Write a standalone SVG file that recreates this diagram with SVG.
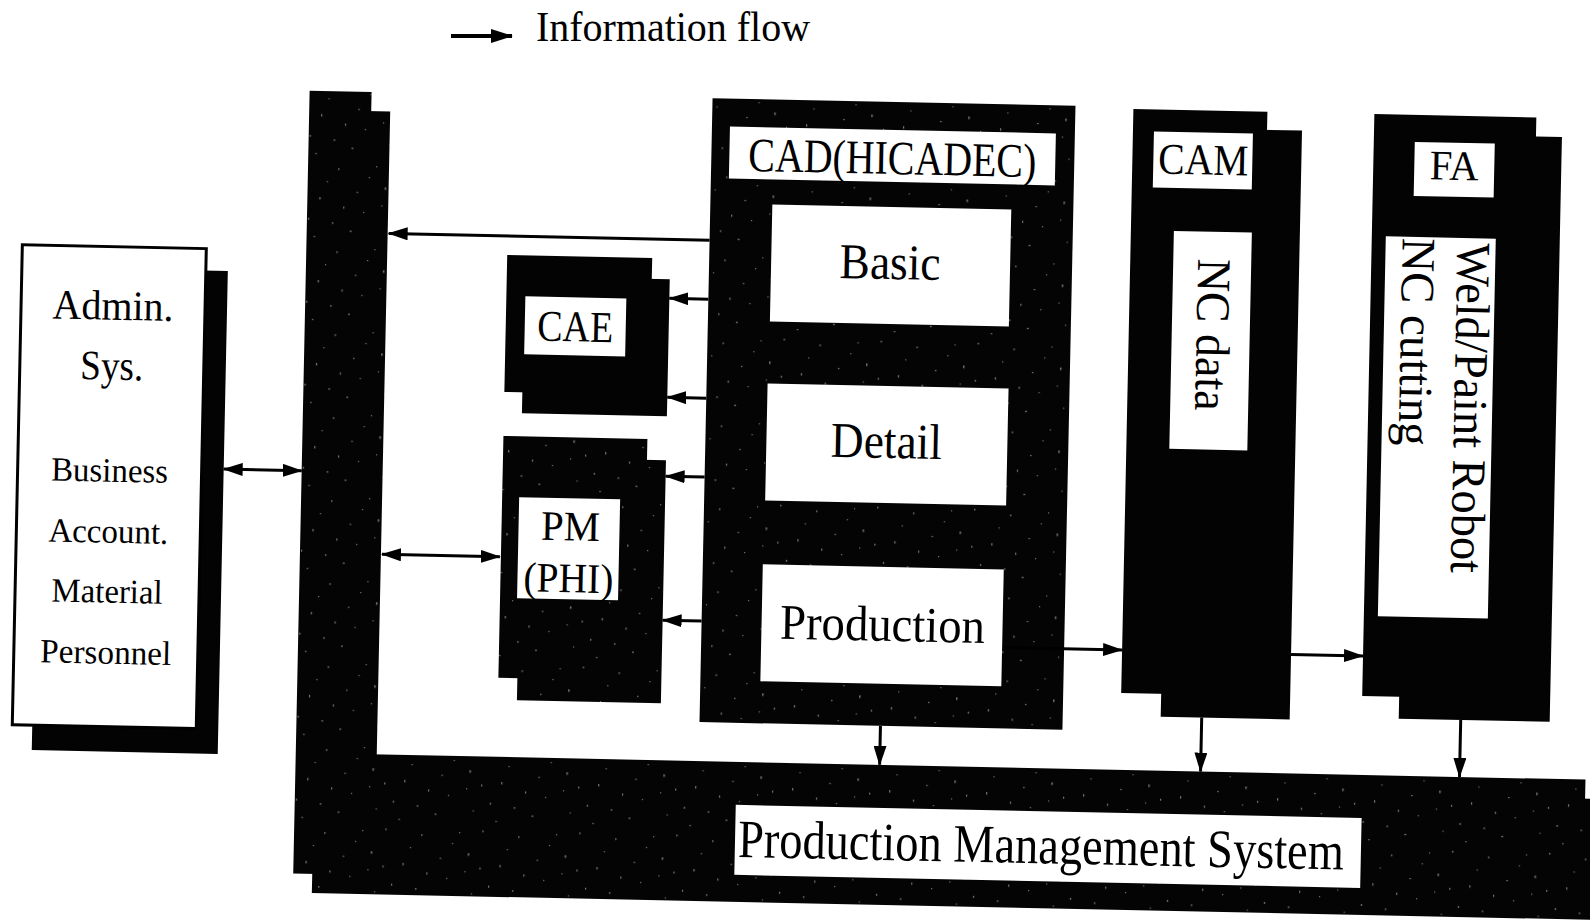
<svg xmlns="http://www.w3.org/2000/svg" width="1590" height="920" viewBox="0 0 1590 920">
<style>
 .dk{fill:#030303}
 .spk{fill:url(#speck)}
 .wht{fill:#fff}
 .t{font-family:"Liberation Serif","Times New Roman",serif;fill:#000;text-anchor:middle}
 .ln{stroke:#000;stroke-width:3;fill:none}
 .one{marker-end:url(#ah)}
 .two{marker-start:url(#ah);marker-end:url(#ah)}
</style>
<defs>
 <pattern id="speck" width="97" height="83" patternUnits="userSpaceOnUse">
  <rect width="97" height="83" fill="#040404"/>
  <g fill="#fff" fill-opacity="0.45">
   <rect x="5" y="7" width="1.5" height="1.5"/>
   <rect x="23" y="41" width="1.2" height="2.5"/>
   <rect x="41" y="12" width="1.5" height="1.5"/>
   <rect x="67" y="55" width="1.2" height="1.2"/>
   <rect x="88" y="30" width="1.5" height="2.5"/>
   <rect x="12" y="62" width="1.2" height="2"/>
   <rect x="54" y="74" width="2" height="1.2"/>
   <rect x="79" y="9" width="1.2" height="1.2"/>
   <rect x="30" y="25" width="1.2" height="1.2"/>
   <rect x="60" y="35" width="1.5" height="1.2"/>
   <rect x="3" y="44" width="1.2" height="2"/>
   <rect x="92" y="70" width="1.2" height="1.2"/>
   <rect x="47" y="50" width="1.2" height="2.2"/>
   <rect x="18" y="80" width="1.5" height="1.2"/>
   <rect x="72" y="20" width="1.2" height="1.2"/>
   <rect x="36" y="66" width="1.5" height="1.5"/>
   <rect x="85" y="48" width="1.2" height="1.2"/>
  </g>
 </pattern>
 <marker id="ah" viewBox="0 0 20 13" refX="19" refY="6.5" markerWidth="20" markerHeight="13" markerUnits="userSpaceOnUse" orient="auto-start-reverse">
  <path d="M0,0 L20,6.5 L0,13 z" fill="#000"/>
 </marker>
 <marker id="ahL" viewBox="0 0 22 14" refX="21" refY="7" markerWidth="22" markerHeight="14" markerUnits="userSpaceOnUse" orient="auto">
  <path d="M0,0 L22,7 L0,14 z" fill="#000"/>
 </marker>
</defs>
<rect width="1590" height="920" fill="#fff"/>

<g id="legend">
 <line x1="451" y1="36" x2="512" y2="36" stroke="#000" stroke-width="4" marker-end="url(#ahL)"/>
 <text class="t" x="673" y="41" font-size="42" textLength="274" lengthAdjust="spacingAndGlyphs">Information flow</text>
</g>

<g transform="rotate(1.2 795 460)">
 <g id="pms">
  <path class="spk" d="M322,120 H383 V782 H1612 V903 H321 Z"/>
  <path class="spk" d="M302,101 H364 V763 H1592 V884 H302 Z"/>
  <rect class="wht" x="743" y="806" width="626" height="70"/>
  <text class="t" x="1049" y="858" font-size="54" textLength="606" lengthAdjust="spacingAndGlyphs">Production Management System</text>
 </g>

 <g id="admin">
  <rect class="dk" x="38" y="283" width="186" height="483"/>
  <rect x="18" y="261" width="184" height="480" fill="#fff" stroke="#000" stroke-width="3"/>
  <text class="t" x="110" y="334" font-size="42" textLength="121" lengthAdjust="spacingAndGlyphs">Admin.</text>
  <text class="t" x="110" y="394" font-size="42" textLength="63" lengthAdjust="spacingAndGlyphs">Sys.</text>
  <text class="t" x="110" y="496" font-size="34" textLength="117" lengthAdjust="spacingAndGlyphs">Business</text>
  <text class="t" x="110" y="557" font-size="34" textLength="120" lengthAdjust="spacingAndGlyphs">Account.</text>
  <text class="t" x="110" y="617" font-size="34" textLength="111" lengthAdjust="spacingAndGlyphs">Material</text>
  <text class="t" x="110" y="678" font-size="34" textLength="131" lengthAdjust="spacingAndGlyphs">Personnel</text>
 </g>

 <g id="cae">
  <rect class="dk" x="521" y="282" width="145" height="137"/>
  <rect class="dk" x="503" y="261" width="145" height="137"/>
  <rect class="wht" x="522" y="302" width="101" height="58"/>
  <text class="t" x="572.5" y="346" font-size="44" textLength="76" lengthAdjust="spacingAndGlyphs">CAE</text>
 </g>

 <g id="pm">
  <rect class="spk" x="522" y="463" width="144" height="243"/>
  <rect class="spk" x="503" y="442" width="144" height="242"/>
  <rect class="wht" x="520" y="503" width="101" height="101"/>
  <text class="t" x="572" y="545" font-size="42" textLength="59" lengthAdjust="spacingAndGlyphs">PM</text>
  <text class="t" x="571" y="597" font-size="42" textLength="90" lengthAdjust="spacingAndGlyphs">(PHI)</text>
 </g>

 <g id="cad">
  <rect class="spk" x="705" y="100" width="363" height="624"/>
  <rect class="wht" x="723" y="128" width="326" height="52"/>
  <text class="t" x="886" y="172" font-size="48" textLength="288" lengthAdjust="spacingAndGlyphs">CAD(HICADEC)</text>
  <rect class="wht" x="767" y="205" width="239" height="117"/>
  <text class="t" x="886" y="277" font-size="50" textLength="101" lengthAdjust="spacingAndGlyphs">Basic</text>
  <rect class="wht" x="766" y="384" width="241" height="117"/>
  <text class="t" x="886" y="456" font-size="50" textLength="111" lengthAdjust="spacingAndGlyphs">Detail</text>
  <rect class="wht" x="765" y="565" width="241" height="117"/>
  <text class="t" x="886" y="639" font-size="50" textLength="205" lengthAdjust="spacingAndGlyphs">Production</text>
 </g>

 <g id="cam">
  <rect class="dk" x="1166" y="120" width="129" height="589"/>
  <rect class="dk" x="1126" y="102" width="134" height="584"/>
  <rect class="wht" x="1147" y="124" width="99" height="56"/>
  <text class="t" x="1197" y="166" font-size="44" textLength="90" lengthAdjust="spacingAndGlyphs">CAM</text>
  <rect class="wht" x="1169" y="223" width="78" height="218"/>
  <text class="t" transform="translate(1194 326) rotate(90)" font-size="48" textLength="152" lengthAdjust="spacingAndGlyphs">NC data</text>
 </g>

 <g id="fa">
  <rect class="dk" x="1404" y="121" width="151" height="585"/>
  <rect class="dk" x="1367" y="102" width="162" height="582"/>
  <rect class="wht" x="1408" y="129" width="80" height="54"/>
  <text class="t" x="1448" y="166" font-size="42" textLength="49" lengthAdjust="spacingAndGlyphs">FA</text>
  <rect class="wht" x="1381" y="224" width="110" height="380"/>
  <text class="t" transform="translate(1453 394) rotate(90)" font-size="48" textLength="330" lengthAdjust="spacingAndGlyphs">Weld/Paint Robot</text>
  <text class="t" transform="translate(1398 329) rotate(90)" font-size="48" textLength="208" lengthAdjust="spacingAndGlyphs">NC cutting</text>
 </g>

 <g id="connectors">
  <line class="ln one" x1="705" y1="242" x2="384" y2="242"/>
  <line class="ln two" x1="224" y1="481" x2="302" y2="481"/>
  <line class="ln two" x1="384" y1="563" x2="502" y2="563"/>
  <line class="ln one" x1="705" y1="301" x2="666" y2="301"/>
  <line class="ln one" x1="705" y1="400" x2="666" y2="400"/>
  <line class="ln one" x1="705" y1="479" x2="666" y2="479"/>
  <line class="ln one" x1="705" y1="623" x2="666" y2="623"/>
  <line class="ln one" x1="1008" y1="643" x2="1126" y2="643"/>
  <line class="ln one" x1="1295" y1="644" x2="1367" y2="644"/>
  <line class="ln one" x1="886" y1="724" x2="886" y2="763"/>
  <line class="ln one" x1="1207" y1="709" x2="1207" y2="763"/>
  <line class="ln one" x1="1466" y1="706" x2="1466" y2="763"/>
 </g>
</g>
</svg>
